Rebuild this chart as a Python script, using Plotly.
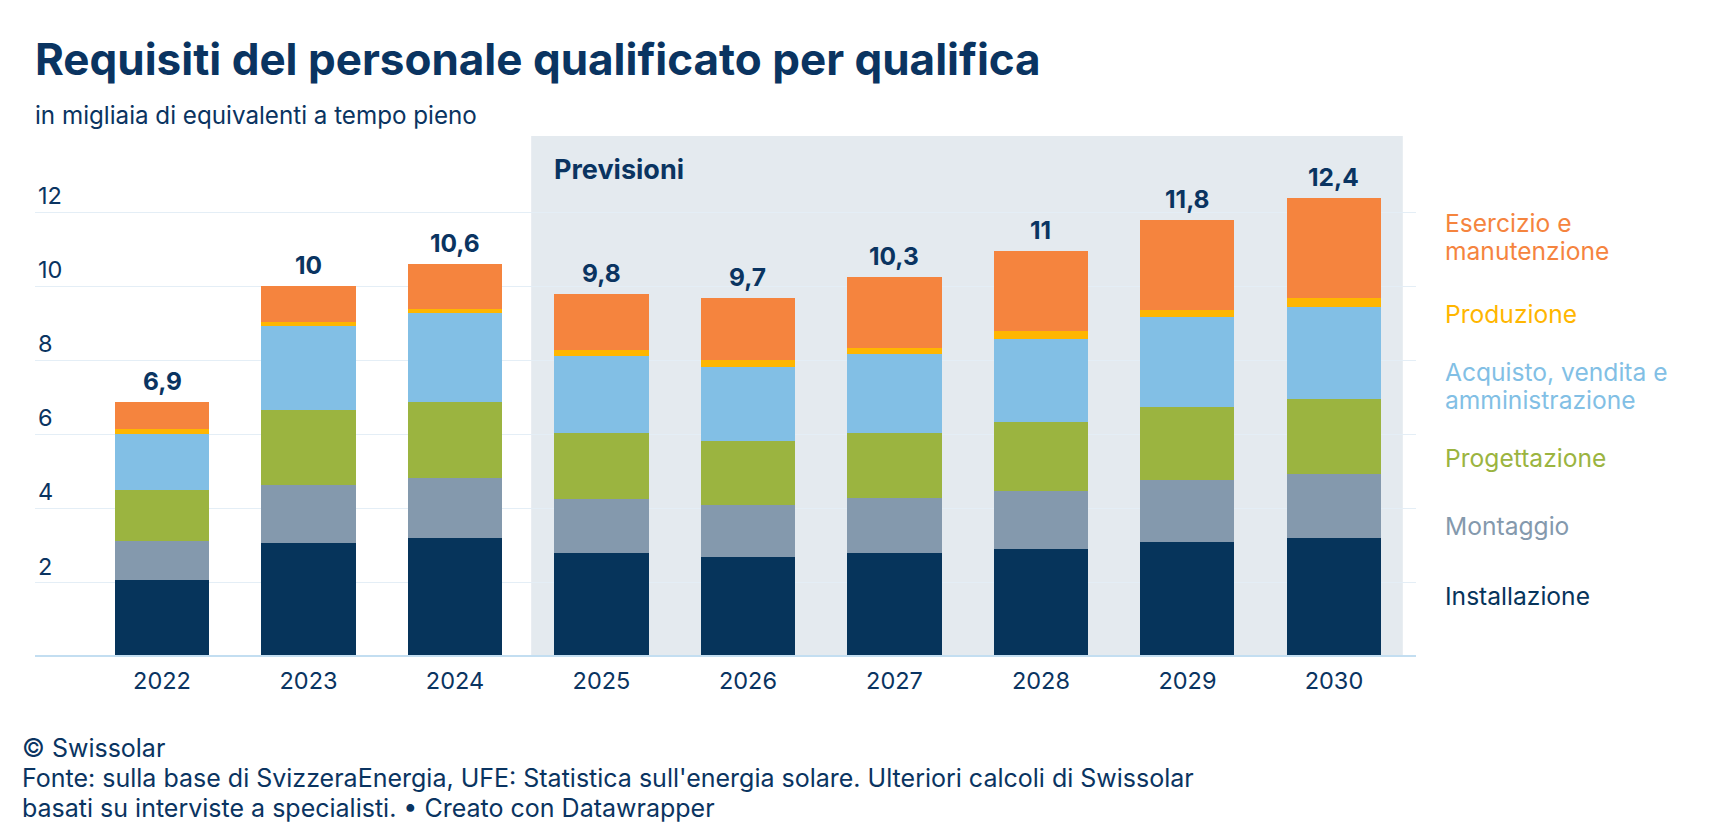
import plotly.graph_objects as go

# ---------------- data ----------------
years = ["2022", "2023", "2024", "2025", "2026", "2027", "2028", "2029", "2030"]
installazione = [2.07, 3.07, 3.20, 2.80, 2.70, 2.80, 2.91, 3.09, 3.21]
montaggio = [1.07, 1.57, 1.63, 1.46, 1.40, 1.48, 1.58, 1.67, 1.72]
progettazione = [1.37, 2.03, 2.06, 1.78, 1.72, 1.76, 1.84, 1.97, 2.02]
acquisto = [1.50, 2.25, 2.39, 2.08, 2.01, 2.13, 2.25, 2.43, 2.50]
produzione = [0.14, 0.11, 0.10, 0.17, 0.18, 0.17, 0.20, 0.20, 0.22]
esercizio = [0.73, 0.97, 1.23, 1.49, 1.68, 1.92, 2.18, 2.43, 2.70]
totals = [6.9, 10, 10.6, 9.8, 9.7, 10.3, 11, 11.8, 12.4]
y_ticks = [2, 4, 6, 8, 10, 12]

series_names = ["Installazione", "Montaggio", "Progettazione",
                "Acquisto, vendita e amministrazione", "Produzione",
                "Esercizio e manutenzione"]
series_values = [installazione, montaggio, progettazione, acquisto, produzione, esercizio]
series_colors = ["#06345b", "#8499ad", "#9bb440", "#82bfe5", "#ffb600", "#f5843e"]

# ---------------- layout constants ----------------
W, H = 1726, 840
PL, PR, PT, PB = 35, 1416, 136, 656.7
NAVY = "#0a3461"
FONT = "Inter"

def px(xp, yp):
    return (xp - PL) / (PR - PL), (PB - yp) / (PB - PT)

fig = go.Figure()
xs = list(range(len(years)))
for name, vals, col in zip(series_names, series_values, series_colors):
    fig.add_trace(go.Bar(x=xs, y=vals, name=name, width=0.642,
                         marker=dict(color=col, line=dict(width=0)),
                         hoverinfo="skip"))

annotations = []
# value labels
for i, t in enumerate(totals):
    annotations.append(dict(x=i, y=sum(v[i] for v in series_values), xref="x", yref="y",
                            text=f"{t:g}".replace(".", ","), showarrow=False,
                            yanchor="bottom", yshift=4,
                            font=dict(family=FONT, size=24.5, color=NAVY, weight="bold")))

# direct labels (right)
label_lines = [("Esercizio e", 223, "#f5843e"), ("manutenzione", 251, "#f5843e"),
               ("Produzione", 313.5, "#ffb600"),
               ("Acquisto, vendita e", 371.5, "#82bfe5"), ("amministrazione", 399.5, "#82bfe5"),
               ("Progettazione", 458, "#9bb440"), ("Montaggio", 525.5, "#8499ad"),
               ("Installazione", 596, "#06345b")]
for txt, yp, col in label_lines:
    xp_, yp_ = px(1443, yp)
    annotations.append(dict(x=xp_, y=yp_, xref="paper", yref="paper", text=txt,
                            showarrow=False, xanchor="left", yanchor="middle",
                            font=dict(family=FONT, size=24.6, color=col)))

# title, subtitle, Previsioni, footer
def add_text(txt, xp, yp, size, bold=False, color=NAVY, family=FONT):
    xx, yy = px(xp, yp)
    annotations.append(dict(x=xx, y=yy, xref="paper", yref="paper", text=txt,
                            showarrow=False, xanchor="left", yanchor="middle",
                            font=dict(family=family, size=size, color=color,
                                      weight="bold" if bold else "normal")))

add_text("Requisiti del personale qualificato per qualifica", 33, 59, 44, bold=True)
add_text("in migliaia di equivalenti a tempo pieno", 33, 116, 24.2)
add_text("Previsioni", 552, 169, 27, bold=True)
add_text("© Swissolar", 20, 748, 25)
add_text("Fonte: sulla base di SvizzeraEnergia, UFE: Statistica sull'energia solare. Ulteriori calcoli di Swissolar", 20, 778, 25)
add_text("basati su interviste a specialisti. • Creato con Datawrapper", 20, 808, 25)

shapes = [
    dict(type="rect", xref="x", yref="paper", x0=2.52, x1=8.47, y0=0, y1=1,
         fillcolor="#e4eaef", line=dict(width=0), layer="below"),
    dict(type="line", xref="paper", yref="y", x0=0, x1=1, y0=0, y1=0,
         line=dict(color="#c3def1", width=4), layer="above"),
]

fig.update_layout(
    width=W, height=H, barmode="stack", showlegend=False,
    margin=dict(l=PL, r=W - PR, t=PT, b=H - PB, pad=0),
    paper_bgcolor="white", plot_bgcolor="rgba(0,0,0,0)",
    font=dict(family=FONT, color=NAVY),
    annotations=annotations, shapes=shapes, bargap=0,
    xaxis=dict(range=[-0.867, 8.56], tickvals=xs, ticktext=years, showgrid=False,
               zeroline=False, showline=False, ticks="outside", ticklen=3,
               tickcolor="rgba(0,0,0,0)", tickfont=dict(family=FONT, size=23.5, color=NAVY),
               fixedrange=True),
    yaxis=dict(range=[0, 14.05], tickvals=y_ticks, ticktext=[str(v) for v in y_ticks],
               ticklabelposition="inside top", showgrid=True, gridcolor="#e4eef6",
               gridwidth=1, zeroline=False, showline=False, ticks="",
               tickfont=dict(family=FONT, size=23.5, color=NAVY), fixedrange=True),
)

fig.write_html("out.html", config={"displayModeBar": False},
               post_script="document.body.style.margin='0';")
